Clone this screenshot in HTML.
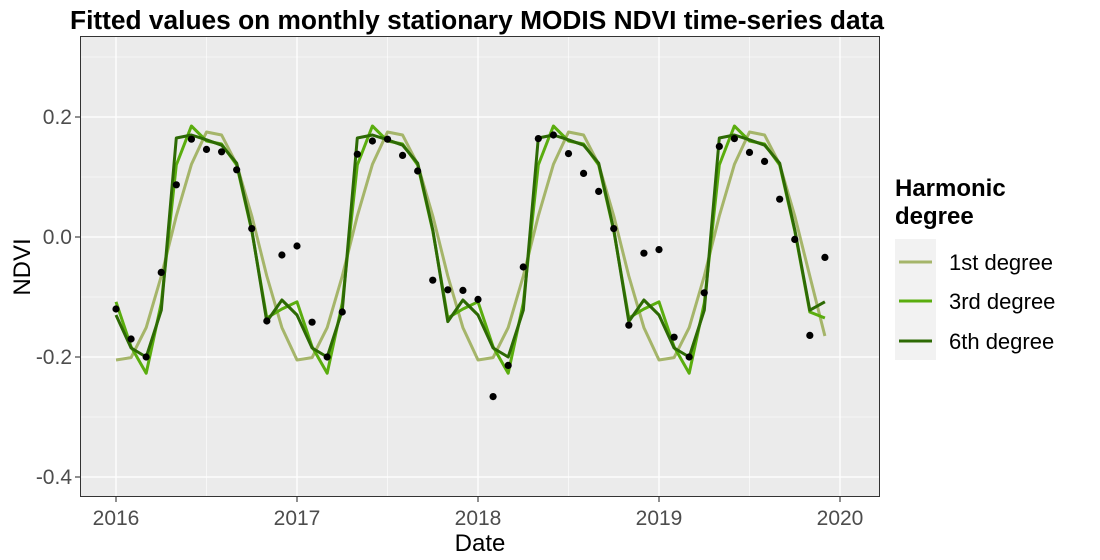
<!DOCTYPE html>
<html><head><meta charset="utf-8"><style>
body{margin:0;background:#fff}
svg{display:block;font-family:"Liberation Sans",Arial,sans-serif}
</style></head><body>
<svg id="chart" width="1100" height="560" viewBox="0 0 1100 560">
<rect x="0" y="0" width="1100" height="560" fill="#fff"/>
<text x="477" y="29" text-anchor="middle" font-size="26.3" font-weight="bold" fill="#000">Fitted values on monthly stationary MODIS NDVI time-series data</text>
<rect x="80" y="36" width="800" height="461" fill="#ebebeb"/>
<g id="grid"></g>
<g id="series"></g>
<g id="points"></g>
<rect x="80.5" y="36.5" width="799" height="460" fill="none" stroke="#333" stroke-width="1"/>
<g id="axes"></g>
<text x="480" y="551" text-anchor="middle" font-size="24" fill="#000">Date</text>
<text transform="translate(30,267) rotate(-90)" text-anchor="middle" font-size="24" fill="#000">NDVI</text>
<g>
<text x="895" y="196" font-size="24" font-weight="bold">Harmonic</text>
<text x="895" y="224" font-size="24" font-weight="bold">degree</text>
<rect x="895" y="239" width="41" height="121" fill="#f2f2f2"/>
<line x1="899" x2="932" y1="262" y2="262" stroke="#a5b56a" stroke-width="3"/>
<line x1="899" x2="932" y1="301" y2="301" stroke="#5aad0e" stroke-width="3"/>
<line x1="899" x2="932" y1="341" y2="341" stroke="#2d6a04" stroke-width="3"/>
<text x="949" y="270" font-size="22">1st degree</text>
<text x="949" y="309" font-size="22">3rd degree</text>
<text x="949" y="349" font-size="22">6th degree</text>
</g>
</svg>
<script>
const xTicks=[2016,2017,2018,2019,2020];
const yTicks=[0.2,0.0,-0.2,-0.4];
const yTickLabels=["0.2","0.0","-0.2","-0.4"];
const monthIndex=[0,1,2,3,4,5,6,7,8,9,10,11,12,13,14,15,16,17,18,19,20,21,22,23,24,25,26,27,28,29,30,31,32,33,34,35,36,37,38,39,40,41,42,43,44,45,46,47];
const observed=[-0.12,-0.17,-0.2,-0.059,0.087,0.163,0.146,0.142,0.112,0.014,-0.14,-0.03,
-0.015,-0.142,-0.2,-0.125,0.138,0.16,0.163,0.136,0.11,-0.072,-0.088,-0.089,
-0.104,-0.266,-0.214,-0.05,0.164,0.17,0.139,0.106,0.076,0.014,-0.147,-0.027,
-0.021,-0.167,-0.2,-0.093,0.151,0.164,0.141,0.126,0.063,-0.004,-0.164,-0.034];
const fit1=[-0.205,-0.201,-0.151,-0.065,0.035,0.121,0.175,0.17,0.121,0.035,-0.065,-0.151,
-0.205,-0.201,-0.151,-0.065,0.035,0.121,0.175,0.17,0.121,0.035,-0.065,-0.151,
-0.205,-0.201,-0.151,-0.065,0.035,0.121,0.175,0.17,0.121,0.035,-0.065,-0.151,
-0.205,-0.201,-0.151,-0.065,0.035,0.121,0.175,0.17,0.121,0.035,-0.065,-0.165];
const fit3=[-0.108,-0.183,-0.227,-0.11,0.12,0.185,0.16,0.155,0.12,0.01,-0.135,-0.12,
-0.108,-0.183,-0.227,-0.11,0.12,0.185,0.16,0.155,0.12,0.01,-0.135,-0.12,
-0.108,-0.183,-0.227,-0.11,0.12,0.185,0.16,0.155,0.12,0.01,-0.135,-0.12,
-0.108,-0.183,-0.227,-0.11,0.12,0.185,0.16,0.155,0.12,0.01,-0.125,-0.135];
const fit6=[-0.13,-0.185,-0.2,-0.122,0.165,0.17,0.162,0.153,0.123,0.012,-0.141,-0.105,
-0.13,-0.185,-0.2,-0.122,0.165,0.17,0.162,0.153,0.123,0.012,-0.141,-0.105,
-0.13,-0.185,-0.2,-0.122,0.165,0.17,0.162,0.153,0.123,0.012,-0.141,-0.105,
-0.13,-0.185,-0.2,-0.122,0.165,0.17,0.162,0.153,0.123,0.012,-0.122,-0.108];

const NS="http://www.w3.org/2000/svg";
function xYear(y){return 116+(y-2016)*181;}
function xMonth(m){return xYear(2016+m/12);}
function yVal(v){return 237-v*600;}
function mk(tag,attrs,parent){const e=document.createElementNS(NS,tag);for(const k in attrs)e.setAttribute(k,attrs[k]);parent.appendChild(e);return e;}
const grid=document.getElementById('grid'),axes=document.getElementById('axes'),series=document.getElementById('series'),pts=document.getElementById('points');
for(let i=0;i<xTicks.length;i++){
  const xm=xYear(xTicks[i]-0.5);
  if(xm>80){const l=mk('line',{x1:xm,x2:xm,y1:36,y2:497,stroke:'#fff','stroke-width':0.6},grid);
  
  }
}
for(let i=0;i<yTicks.length;i++){
  const ym=yVal(yTicks[i]+0.1);
  const l=mk('line',{x1:80,x2:880,y1:ym,y2:ym,stroke:'#fff','stroke-width':0.6},grid);
  
  
}
for(let i=0;i<xTicks.length;i++){
  const x=xYear(xTicks[i]);
  const l=mk('line',{x1:x,x2:x,y1:36,y2:497,stroke:'#fff','stroke-width':1.3},grid);
  
  
  const t=mk('line',{x1:x,x2:x,y1:497,y2:502,stroke:'#333','stroke-width':1.1},axes);
  
  
  const tx=mk('text',{x:x,y:525,'text-anchor':'middle','font-size':21,fill:'#4d4d4d'},axes);
  tx.textContent=xTicks[i];
  
  
}
for(let i=0;i<yTicks.length;i++){
  const y=yVal(yTicks[i]);
  const l=mk('line',{x1:80,x2:880,y1:y,y2:y,stroke:'#fff','stroke-width':1.3},grid);
  
  
  const t=mk('line',{x1:75,x2:80,y1:y,y2:y,stroke:'#333','stroke-width':1.1},axes);
  
  
  const tx=mk('text',{x:72,y:y+7,'text-anchor':'end','font-size':21,fill:'#4d4d4d'},axes);
  tx.textContent=yTickLabels[i];
  
  
}
const sdefs=[[fit1,'#a5b56a','line-1st-degree'],[fit3,'#5aad0e','line-3rd-degree'],[fit6,'#2d6a04','line-6th-degree']];
for(const [arr,col,name] of sdefs){
  const d=arr.map((v,i)=>(i?'L':'M')+xMonth(monthIndex[i]).toFixed(1)+','+yVal(v).toFixed(1)).join(' ');
  const p=mk('path',{d:d,fill:'none',stroke:col,'stroke-width':3,'stroke-linejoin':'round'},series);
  
  
}
for(let i=0;i<observed.length;i++){
  const c=mk('circle',{cx:xMonth(monthIndex[i]),cy:yVal(observed[i]),r:3.6,fill:'#000'},pts);
  
  
}
</script>
</body></html>
